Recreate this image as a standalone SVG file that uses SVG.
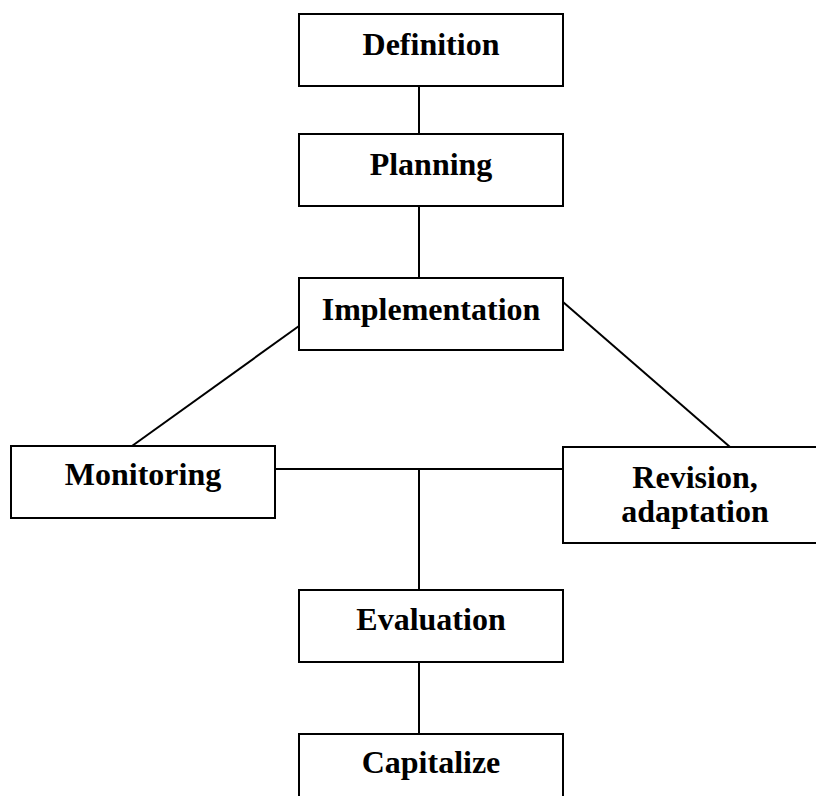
<svg xmlns="http://www.w3.org/2000/svg" width="816" height="796" viewBox="0 0 816 796">
  <style>
    .box { fill: #ffffff; stroke: #000000; stroke-width: 2; }
    .link { fill: none; stroke: #000000; stroke-width: 2; }
    .label { font-family: "Liberation Serif", "Times New Roman", serif; font-weight: bold; font-size: 32px; text-anchor: middle; fill: #000000; }
  </style>
  <rect x="0" y="0" width="816" height="796" fill="#ffffff"/>

  <g id="connectors">
    <line class="link" x1="419" y1="86" x2="419" y2="134"/>
    <line class="link" x1="419" y1="206" x2="419" y2="278"/>
    <line class="link" x1="299" y1="326" x2="132" y2="446"/>
    <line class="link" x1="563" y1="302" x2="730" y2="447"/>
    <line class="link" x1="275" y1="469" x2="563" y2="469"/>
    <line class="link" x1="419" y1="469" x2="419" y2="590"/>
    <line class="link" x1="419" y1="662" x2="419" y2="734"/>
  </g>

  <g id="definition">
    <rect class="box" x="299" y="14" width="264" height="72"/>
    <text class="label" x="431" y="55">Definition</text>
  </g>
  <g id="planning">
    <rect class="box" x="299" y="134" width="264" height="72"/>
    <text class="label" x="431" y="175">Planning</text>
  </g>
  <g id="implementation">
    <rect class="box" x="299" y="278" width="264" height="72"/>
    <text class="label" x="431" y="320">Implementation</text>
  </g>
  <g id="monitoring">
    <rect class="box" x="11" y="446" width="264" height="72"/>
    <text class="label" x="143" y="485">Monitoring</text>
  </g>
  <g id="revision">
    <rect class="box" x="563" y="447" width="264" height="96"/>
    <text class="label" x="695" y="488">Revision,</text>
    <text class="label" x="695" y="522">adaptation</text>
  </g>
  <g id="evaluation">
    <rect class="box" x="299" y="590" width="264" height="72"/>
    <text class="label" x="431" y="630">Evaluation</text>
  </g>
  <g id="capitalize">
    <rect class="box" x="299" y="734" width="264" height="72"/>
    <text class="label" x="431" y="773">Capitalize</text>
  </g>
</svg>
